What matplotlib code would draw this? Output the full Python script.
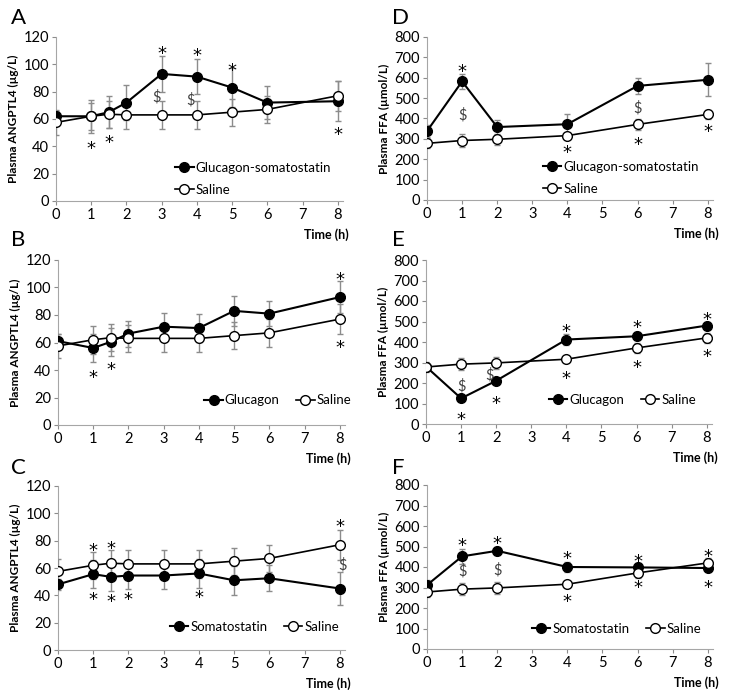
import matplotlib
matplotlib.use("Agg")
import matplotlib.pyplot as plt

plt.rcParams['font.family'] = ['Lato', 'DejaVu Sans']

# ---------------- data ----------------
t_ang = [0, 1, 1.5, 2, 3, 4, 5, 6, 8]
t_ffa = [0, 1, 2, 4, 6, 8]

sal_ang = [57.5, 62, 63.5, 63, 63, 63, 65, 67, 77]
sal_ang_err = [9, 10, 10, 10, 10, 10, 10, 10, 11]
gs_ang = [62, 62, 65, 72, 93, 91, 83, 72, 73]
gs_ang_err = [4, 12, 11.5, 13, 13, 13, 14, 12, 14.5]
glu_ang = [61, 56, 60.5, 66.5, 71.5, 70.5, 83, 81, 93]
glu_ang_err = [5, 10, 10, 9.5, 10, 10, 11, 9, 11.5]
som_ang = [48, 55.5, 53.5, 54.5, 54.5, 56, 51, 52.5, 45]
som_ang_err = [4, 10, 10.5, 10, 10, 10.5, 10.5, 9.5, 12]

sal_ffa = [278, 292, 298, 316, 371, 420]
sal_ffa_err = [25, 30, 28, 12, 25, 23]
gs_ffa = [338, 582, 358, 372, 560, 590]
gs_ffa_err = [30, 36, 37, 48, 40, 82]
glu_ffa = [280, 125, 211, 412, 428, 480]
glu_ffa_err = [20, 15, 15, 25, 20, 18]
som_ffa = [312, 452, 479, 400, 398, 395]
som_ffa_err = [25, 38, 20, 22, 20, 15]

# significance marks (x, y)
stars = {
    "A": [(3, 111), (4, 109.5), (5, 99), (1, 42), (1.5, 46), (8, 52)],
    "B": [(1, 37.6), (1.5, 44), (8, 109), (8, 60)],
    "C": [(1, 76), (1.5, 78), (8, 94), (1, 40.7), (1.5, 39), (2, 40), (4, 41.5)],
    "D": [(1, 653), (4, 258), (6, 295), (8, 357)],
    "E": [(1, 44), (2, 125), (4, 475), (4, 247), (6, 494), (6, 296), (8, 532), (8, 353)],
    "F": [(1, 527), (2, 537), (4, 464), (6, 451), (8, 472), (4, 256), (6, 321), (8, 321)],
}
dollars = {
    "A": [(2.86, 76), (3.82, 74)],
    "B": [],
    "C": [(8.08, 62)],
    "D": [(1, 417), (6, 450)],
    "E": [(1, 182), (1.8, 239)],
    "F": [(1, 378), (2, 386)],
}

# legend anchor (axes fraction, left edge / vertical centre)
legend_at = {
    "A": (0.415, 0.135), "B": (0.51, 0.15), "C": (0.39, 0.14),
    "D": (0.405, 0.135), "E": (0.43, 0.146), "F": (0.367, 0.122),
}

ANG_LABEL = "Plasma ANGPTL4 (µg/L)"
FFA_LABEL = "Plasma FFA (µmol/L)"
GREY = "#8c8c8c"


def draw_panel(ax, key, t, y1, e1, lab1, ys, es, ylab, ymax, ystep, two_rows):
    ax.errorbar(t, y1, yerr=e1, color="black", ecolor=GREY, elinewidth=1,
                capsize=2, capthick=1, lw=1.5, marker="o", ms=7,
                mfc="black", mec="black", label=lab1, zorder=3)
    ax.errorbar(t, ys, yerr=es, color="black", ecolor=GREY, elinewidth=1,
                capsize=2, capthick=1, lw=1.2, marker="o", ms=7,
                mfc="white", mec="black", mew=1, label="Saline", zorder=3)
    # asterisk glyph sits high in its box, so pull it down onto the point
    for x, y in stars[key]:
        ax.annotate("*", (x, y), xytext=(0, -7.3), textcoords="offset points",
                    ha="center", va="baseline", fontsize=13,
                    family="DejaVu Sans", zorder=4)
    for x, y in dollars[key]:
        ax.text(x, y, "$", ha="center", va="center", fontsize=10.5,
                color="#404040", zorder=4)

    ax.set_xlim(0, 8.15)
    ax.set_ylim(0, ymax)
    ax.set_xticks(range(0, 9))
    ax.set_yticks(range(0, ymax + 1, ystep))
    ax.tick_params(labelsize=10.5, length=3, color=GREY, pad=2)
    for s in ("top", "right"):
        ax.spines[s].set_visible(False)
    for s in ("left", "bottom"):
        ax.spines[s].set_color("#a6a6a6")
    ax.set_ylabel(ylab, fontsize=8.5, fontweight="bold", labelpad=3)
    ax.text(1.02, -0.205, "Time (h)", transform=ax.transAxes, ha="right",
            va="center", fontsize=9, fontweight="bold")

    # legend handles without error bars
    h, l = ax.get_legend_handles_labels()
    h = [hh[0] for hh in h]
    kw = dict(loc="center left", bbox_to_anchor=legend_at[key], frameon=False,
              fontsize=9.5, handlelength=1.4, handletextpad=0.15,
              borderpad=0, borderaxespad=0)
    if two_rows:
        ax.legend(h, l, labelspacing=0.75, **kw)
    else:
        ax.legend(h, l, ncol=2, columnspacing=1.25, **kw)


fig = plt.figure(figsize=(7.31, 6.9), dpi=100)
W, H = 731, 690


def add_axes(l, r, top, bottom):
    return fig.add_axes([l / W, 1 - bottom / H, (r - l) / W, (bottom - top) / H])


axA = add_axes(56, 343, 37, 201)
axB = add_axes(58, 345, 260, 425)
axC = add_axes(58, 345, 486, 650)
axD = add_axes(427, 713, 37, 200)
axE = add_axes(426, 712, 260, 424)
axF = add_axes(427, 713, 485, 649)

draw_panel(axA, "A", t_ang, gs_ang, gs_ang_err, "Glucagon-somatostatin",
           sal_ang, sal_ang_err, ANG_LABEL, 120, 20, True)
draw_panel(axB, "B", t_ang, glu_ang, glu_ang_err, "Glucagon",
           sal_ang, sal_ang_err, ANG_LABEL, 120, 20, False)
draw_panel(axC, "C", t_ang, som_ang, som_ang_err, "Somatostatin",
           sal_ang, sal_ang_err, ANG_LABEL, 120, 20, False)
draw_panel(axD, "D", t_ffa, gs_ffa, gs_ffa_err, "Glucagon-somatostatin",
           sal_ffa, sal_ffa_err, FFA_LABEL, 800, 100, True)
draw_panel(axE, "E", t_ffa, glu_ffa, glu_ffa_err, "Glucagon",
           sal_ffa, sal_ffa_err, FFA_LABEL, 800, 100, False)
draw_panel(axF, "F", t_ffa, som_ffa, som_ffa_err, "Somatostatin",
           sal_ffa, sal_ffa_err, FFA_LABEL, 800, 100, False)

for letter, x, y in [("A", 11, 8), ("B", 11, 230), ("C", 11, 458),
                     ("D", 392, 8), ("E", 392, 230), ("F", 392, 458)]:
    fig.text(x / W, 1 - y / H, letter, ha="left", va="top", fontsize=16)

fig.savefig("out.png", dpi=100)
